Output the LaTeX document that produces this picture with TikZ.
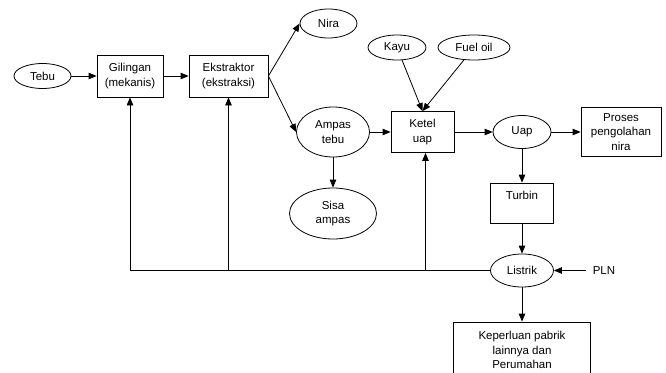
\documentclass[tikz,border=0pt]{standalone}
\usepackage{fontspec}
\setmainfont{Liberation Sans}
\usetikzlibrary{arrows.meta,shapes.geometric}

\begin{document}
\begin{tikzpicture}[x=1pt,y=-1pt,line width=0.8pt,
	font=\fontsize{11.5}{14.5}\selectfont,
	kotak/.style={draw,rectangle,align=center,inner sep=2pt},
	elips/.style={draw,ellipse,align=center,inner sep=0pt},
	panah/.style={-{Triangle[length=8pt,width=6.5pt]}}]
		\useasboundingbox (0,0) rectangle (666,372);
		\node[elips,minimum width=57pt,minimum height=25pt] (tebu) at (42.5,76) {Tebu};
		\node[kotak,minimum width=66pt,minimum height=42pt] (gilingan) at (130,76) {Gilingan\\(mekanis)};
		\node[kotak,minimum width=79pt,minimum height=42pt] (ekstraktor) at (228.5,76) {Ekstraktor\\(ekstraksi)};
		\node[elips,minimum width=57pt,minimum height=29pt] (nira) at (328.5,23.5) {Nira};
		\node[elips,minimum width=73pt,minimum height=50pt] (ampas) at (333,132) {Ampas\\tebu};
		\node[elips,minimum width=87pt,minimum height=51pt] (sisa) at (333,213.5) {Sisa\\ampas};
		\node[elips,minimum width=58pt,minimum height=25pt] (kayu) at (397,47.5) {Kayu};
		\node[elips,minimum width=72pt,minimum height=25pt] (fuel) at (474,47.5) {Fuel oil};
		\node[kotak,minimum width=63pt,minimum height=41pt] (ketel) at (422.5,132) {Ketel\\uap};
		\node[elips,minimum width=58pt,minimum height=33pt] (uap) at (522,132) {Uap};
		\node[kotak,minimum width=80pt,minimum height=49pt] (proses) at (621,132) {Proses\\pengolahan\\nira};
		\node[kotak,minimum width=63pt,text height=10pt,text depth=18pt,inner ysep=6pt] (turbin) at (522,203) {Turbin};
		\node[elips,minimum width=63pt,minimum height=33pt] (listrik) at (522,270.5) {Listrik};
		\node[inner sep=6pt] (pln) at (604,270.5) {PLN};
		\node[kotak,minimum width=137pt,minimum height=56pt] (keperluan) at (522,350) {Keperluan pabrik\\lainnya dan\\Perumahan};
		\coordinate (ketelbawah) at ([xshift=3pt]ketel.south);
		\draw[panah] (tebu) -- (gilingan);
		\draw[panah] (gilingan) -- (ekstraktor);
		\draw[panah] (ekstraktor.east) -- (nira.west);
		\draw[panah] (ekstraktor.east) -- (ampas.west);
		\draw[panah] (ampas) -- (sisa);
		\draw[panah] (ampas) -- (ketel);
		\draw[panah] (kayu) -- (ketel.north);
		\draw[panah] (fuel) -- (ketel.north);
		\draw[panah] (ketel) -- (uap);
		\draw[panah] (uap) -- (proses);
		\draw[panah] (uap) -- (turbin);
		\draw[panah] (turbin) -- (listrik);
		\draw[panah] (listrik) -- (keperluan);
		\draw[panah] (pln) -- (listrik);
		\draw[panah] (listrik.west) -- (gilingan.south |- listrik.west) -- (gilingan.south);
		\draw[panah] (ekstraktor.south |- listrik.west) -- (ekstraktor.south);
		\draw[panah] (ketelbawah |- listrik.west) -- (ketelbawah);
\end{tikzpicture}
\end{document}
